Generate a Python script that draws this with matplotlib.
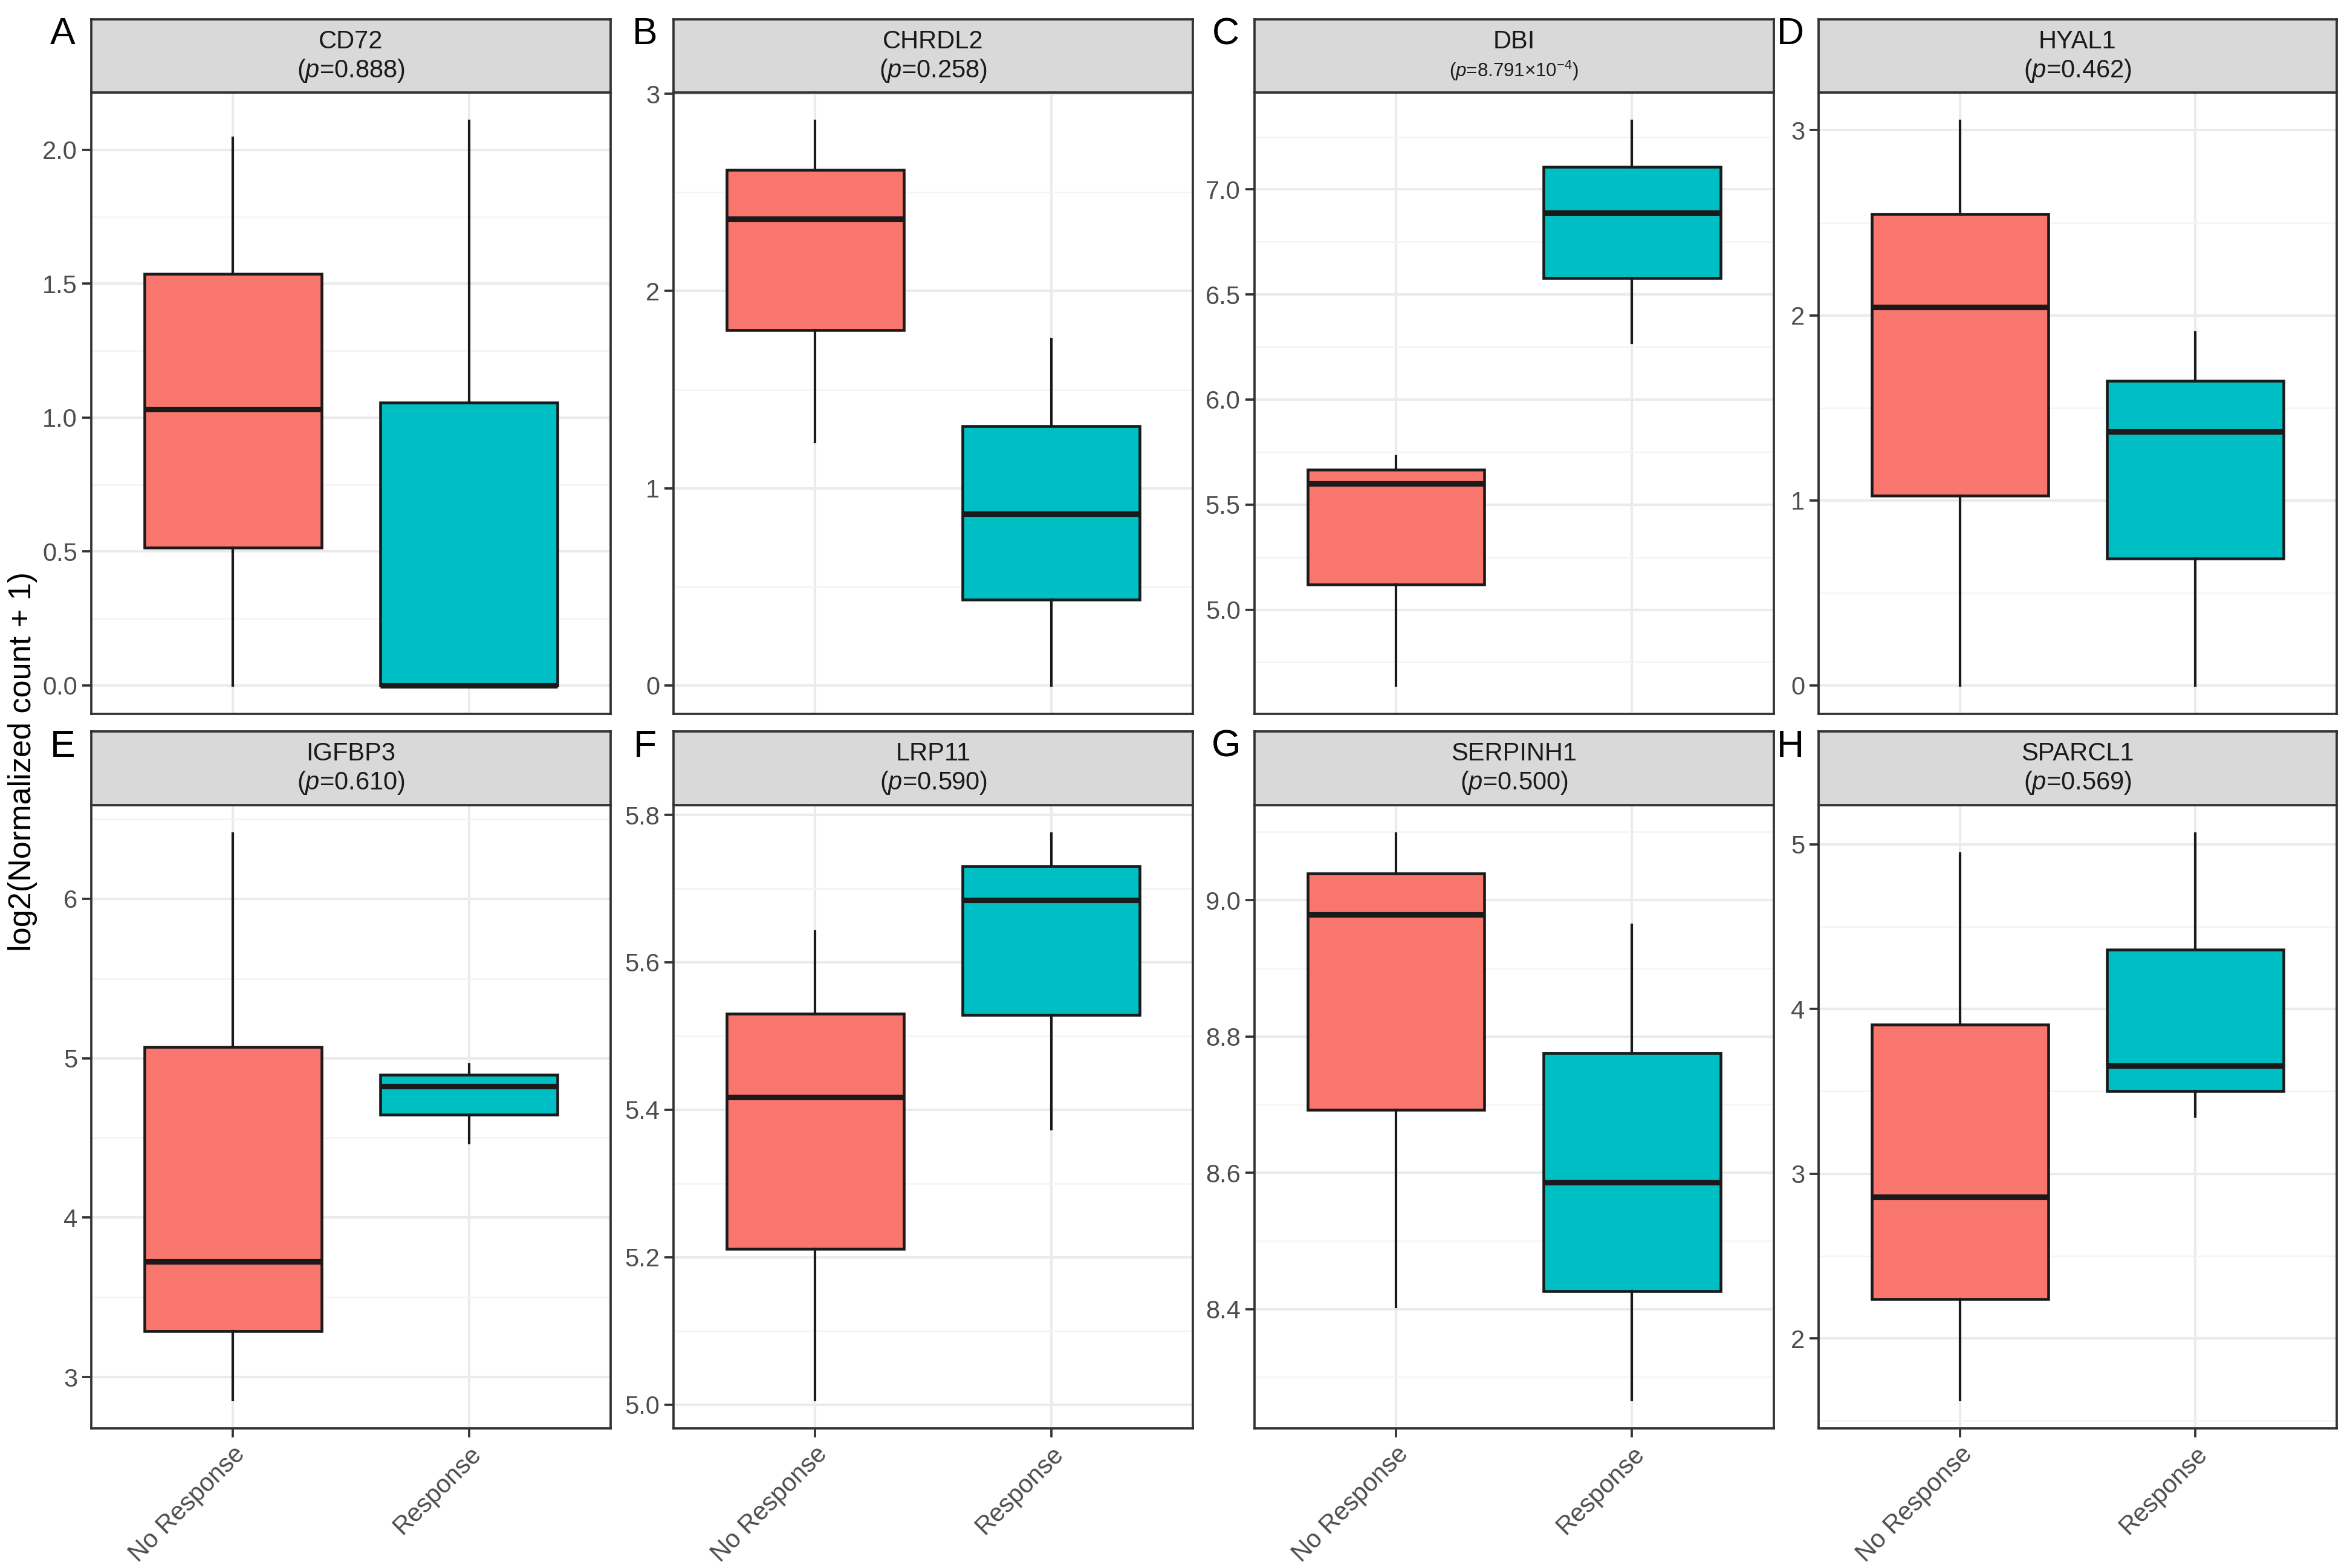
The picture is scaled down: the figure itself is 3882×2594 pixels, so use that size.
import matplotlib
matplotlib.use("Agg")
import matplotlib.pyplot as plt
import numpy as np

plt.rcParams['font.family'] = ['Liberation Sans', 'DejaVu Sans']
plt.rcParams['mathtext.fontset'] = 'custom'
plt.rcParams['mathtext.rm'] = 'Liberation Sans'
plt.rcParams['mathtext.it'] = 'Liberation Sans:italic'

# geny i p-wartosci
geny = ["CD72", "CHRDL2", "DBI", "HYAL1", "IGFBP3", "LRP11", "SERPINH1", "SPARCL1"]
p_teksty = ["0.888", "0.258", r"8.791$\times$10$^{-4}$", "0.462",
            "0.610", "0.590", "0.500", "0.569"]
litery = ["A", "B", "C", "D", "E", "F", "G", "H"]
grupy = ["No Response", "Response"]

# statystyki pudelek: [dolny wąs, Q1, mediana, Q3, górny wąs]
brak_odp = [
    [0.0, 0.515, 1.032, 1.538, 2.045],
    [1.235, 1.802, 2.367, 2.614, 2.862],
    [4.639, 5.119, 5.599, 5.666, 5.729],
    [0.0, 1.024, 2.044, 2.549, 3.05],
    [2.858, 3.29, 3.726, 5.07, 6.41],
    [5.0065, 5.211, 5.417, 5.530, 5.642],
    [8.403, 8.692, 8.979, 9.039, 9.098],
    [1.627, 2.24, 2.86, 3.905, 4.944],
]
odp = [
    [0.0, 0.0, 0.0, 1.057, 2.108],
    [0.0, 0.435, 0.871, 1.316, 1.755],
    [6.271, 6.578, 6.889, 7.109, 7.326],
    [0.0, 0.686, 1.373, 1.645, 1.906],
    [4.467, 4.645, 4.825, 4.896, 4.96],
    [5.374, 5.529, 5.684, 5.730, 5.775],
    [8.267, 8.426, 8.586, 8.776, 8.964],
    [3.347, 3.50, 3.655, 4.361, 5.067],
]

# podziałki osi Y
yticki = [
    [0.0, 0.5, 1.0, 1.5, 2.0],
    [0, 1, 2, 3],
    [5.0, 5.5, 6.0, 6.5, 7.0],
    [0, 1, 2, 3],
    [3, 4, 5, 6],
    [5.0, 5.2, 5.4, 5.6, 5.8],
    [8.4, 8.6, 8.8, 9.0],
    [2, 3, 4, 5],
]
formaty = ["{:.1f}", "{:.0f}", "{:.1f}", "{:.0f}", "{:.0f}", "{:.1f}", "{:.1f}", "{:.0f}"]

kolory = ["#F8766D", "#00BFC4"]

W, H = 1568.0, 1048.0
kolumny = [(61, 408), (450, 797), (838, 1185), (1215, 1561)]
wiersze = [(13, 62, 477), (489, 538, 954.5)]

fig = plt.figure(figsize=(3882 / 300, 2594 / 300), dpi=300)


def stat(v):
    return {'whislo': v[0], 'q1': v[1], 'med': v[2], 'q3': v[3], 'whishi': v[4], 'fliers': []}


for i, gen in enumerate(geny):
    r, c = divmod(i, 4)
    x0, x1 = kolumny[c]
    s_top, p_top, p_bot = wiersze[r]
    ax = fig.add_axes([x0 / W, 1 - p_bot / H, (x1 - x0) / W, (p_bot - p_top) / H])
    sx = fig.add_axes([x0 / W, 1 - p_top / H, (x1 - x0) / W, (p_top - s_top) / H])

    bp = ax.bxp([stat(brak_odp[i]), stat(odp[i])], positions=[1, 2], widths=0.75,
                patch_artist=True, showfliers=False, showcaps=False,
                boxprops=dict(edgecolor='#1a1a1a', linewidth=1.1),
                whiskerprops=dict(color='#1a1a1a', linewidth=1.0),
                medianprops=dict(color='#1a1a1a', linewidth=2.2, solid_capstyle='butt'))
    for patch, kol in zip(bp['boxes'], kolory):
        patch.set_facecolor(kol)
        patch.set_zorder(3)
    for el in bp['whiskers'] + bp['medians']:
        el.set_zorder(3)

    t = yticki[i]
    ax.set_yticks(t)
    ax.set_yticklabels([formaty[i].format(v) for v in t])
    krok = t[1] - t[0]
    minor = [v + krok / 2 for v in [t[0] - krok] + t]
    ax.set_yticks(minor, minor=True)
    ax.tick_params(axis='y', which='minor', length=0)

    # zakres jak w ggplot: 5% zapasu
    lo = min(brak_odp[i][0], odp[i][0])
    hi = max(brak_odp[i][4], odp[i][4])
    zakres = hi - lo
    ax.set_ylim(lo - 0.05 * zakres, hi + 0.05 * zakres)
    ax.set_xlim(0.4, 2.6)

    ax.grid(True, which='major', color='#EBEBEB', linewidth=1.0, zorder=0)
    ax.grid(True, which='minor', axis='y', color='#F4F4F4', linewidth=0.6, zorder=0)
    ax.set_axisbelow(True)

    ax.tick_params(axis='both', which='major', length=3.5, width=0.9, color='#333333',
                   labelcolor='#4D4D4D', labelsize=10, pad=2)
    ax.set_xticks([1, 2])
    if r == 1:
        ax.set_xticklabels(grupy, rotation=45, ha='right', va='top',
                           rotation_mode='anchor', fontsize=10)
    else:
        ax.set_xticklabels([])
        ax.tick_params(axis='x', length=0)
    for sp in ax.spines.values():
        sp.set_color('#333333')
        sp.set_linewidth(0.9)

    sx.set_facecolor('#D9D9D9')
    sx.set_xticks([])
    sx.set_yticks([])
    for sp in sx.spines.values():
        sp.set_color('#333333')
        sp.set_linewidth(0.9)
    rozm_p = 7.5 if i == 2 else 10
    sx.text(0.5, 0.70, gen, ha='center', va='center', fontsize=10, color='#1a1a1a',
            transform=sx.transAxes)
    sx.text(0.5, 0.30, r"($\mathit{p}$=" + p_teksty[i] + ")", ha='center', va='center',
            fontsize=rozm_p, color='#1a1a1a', transform=sx.transAxes)

    fig.text((x0 - 19) / W, 1 - (s_top + 10) / H, litery[i], ha='center', va='center',
             fontsize=15, color='black')

fig.text(15 / W, 1 - 509 / H, "log2(Normalized count + 1)", rotation=90,
         ha='center', va='center', fontsize=12.5, color='black')

fig.savefig("out.png", dpi=300, facecolor='white')
